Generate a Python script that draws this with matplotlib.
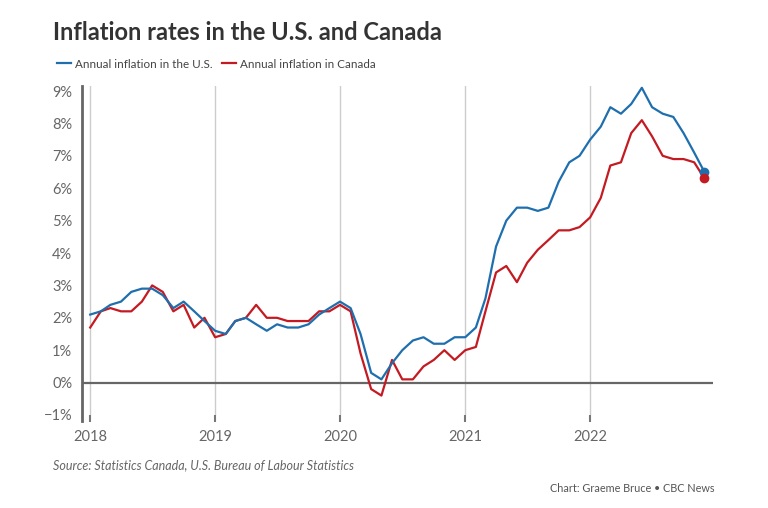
import matplotlib
matplotlib.use("Agg")
import matplotlib.pyplot as plt
import pandas as pd

plt.rcParams['font.family'] = ['Lato', 'DejaVu Sans']

# monthly, Jan 2018 - Dec 2022
months = pd.date_range('2018-01-01', periods=60, freq='MS')
us = [2.1, 2.2, 2.4, 2.5, 2.8, 2.9, 2.9, 2.7, 2.3, 2.5, 2.2, 1.9,
      1.6, 1.5, 1.9, 2.0, 1.8, 1.6, 1.8, 1.7, 1.7, 1.8, 2.1, 2.3,
      2.5, 2.3, 1.5, 0.3, 0.1, 0.6, 1.0, 1.3, 1.4, 1.2, 1.2, 1.4,
      1.4, 1.7, 2.6, 4.2, 5.0, 5.4, 5.4, 5.3, 5.4, 6.2, 6.8, 7.0,
      7.5, 7.9, 8.5, 8.3, 8.6, 9.1, 8.5, 8.3, 8.2, 7.7, 7.1, 6.5]
canada = [1.7, 2.2, 2.3, 2.2, 2.2, 2.5, 3.0, 2.8, 2.2, 2.4, 1.7, 2.0,
          1.4, 1.5, 1.9, 2.0, 2.4, 2.0, 2.0, 1.9, 1.9, 1.9, 2.2, 2.2,
          2.4, 2.2, 0.9, -0.2, -0.4, 0.7, 0.1, 0.1, 0.5, 0.7, 1.0, 0.7,
          1.0, 1.1, 2.2, 3.4, 3.6, 3.1, 3.7, 4.1, 4.4, 4.7, 4.7, 4.8,
          5.1, 5.7, 6.7, 6.8, 7.7, 8.1, 7.6, 7.0, 6.9, 6.9, 6.8, 6.3]
years = ['2018', '2019', '2020', '2021', '2022']
yticks = list(range(-1, 10))

blue = '#1f6fae'
red = '#c41a22'
grey = '#666666'

fig = plt.figure(figsize=(7.68, 5.08), dpi=100)
# 9% sits at y=91, -1% at y=415; axes top a bit above 9%
ax = fig.add_axes([82/768, 1 - 415/508, (713-82)/768, (415-86)/508])

year_dates = [pd.Timestamp(y + '-01-01') for y in years]
for d in year_dates:
    ax.plot([d, d], [-1, 9.15], color='#cccccc', lw=1, zorder=1)
ax.axhline(0, color='#666666', lw=1.6, zorder=2)

ax.plot(months, us, color=blue, lw=1.6, zorder=4, label='Annual inflation in the U.S.')
ax.plot(months, canada, color=red, lw=1.6, zorder=3, label='Annual inflation in Canada')
ax.scatter([months[-1]], [us[-1]], color=blue, s=36, zorder=5)
ax.scatter([months[-1]], [canada[-1]], color=red, s=36, zorder=5)

ax.set_ylim(-1, 9.155)
ax.set_xlim(pd.Timestamp('2017-12-08'), pd.Timestamp('2022-12-26'))
ax.set_yticks(yticks)
ax.set_yticklabels(['\u22121%' if v < 0 else f'{v}%' for v in yticks])
ax.set_xticks(year_dates)
ax.set_xticklabels(years)
ax.tick_params(axis='y', length=0, pad=7, labelsize=10.5, labelcolor=grey)
ax.tick_params(axis='x', length=5, width=1.5, color='#777777', pad=6, labelsize=10.5, labelcolor=grey)

for s in ['top', 'right', 'bottom']:
    ax.spines[s].set_visible(False)
ax.spines['left'].set_color('#666666')
ax.spines['left'].set_linewidth(2)
ax.spines['left'].set_bounds(-1.18, 9.15)

fig.text(53/768, 1 - 32/508, 'Inflation rates in the U.S. and Canada',
         fontsize=17, fontweight='bold', color='#333333', va='center')
fig.legend(loc='center left', bbox_to_anchor=(46/768, 1 - 64/508), ncol=2,
           frameon=False, fontsize=8.4, handlelength=1.25, handletextpad=0.3,
           columnspacing=0.8, labelcolor='#444444')
fig.text(53/768, 1 - 465/508, 'Source: Statistics Canada, U.S. Bureau of Labour Statistics',
         fontsize=9, style='italic', color=grey, va='center')
fig.text(715/768, 1 - 489/508, 'Chart: Graeme Bruce \u2022 CBC News',
         fontsize=7.8, color='#555555', va='center', ha='right')

fig.savefig('out.png', dpi=100)
